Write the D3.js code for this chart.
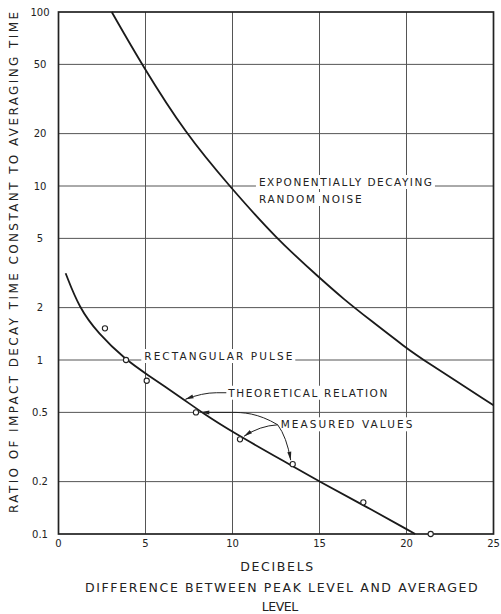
<!DOCTYPE html>
<html>
<head>
<meta charset="utf-8">
<script src="https://cdn.jsdelivr.net/npm/d3@7"></script>
<style>
    body{margin:0;background:#fff;}
    text{font-family:"DejaVu Sans",sans-serif;fill:#222;}
</style>
</head>
<body>
<div id="chart"></div>
<script>
// axis ticks
var xTicks = [0, 5, 10, 15, 20, 25];
var yTicks = [0.1, 0.2, 0.5, 1, 2, 5, 10, 20, 50, 100];
var yTickLabels = ["0.1", "0.2", "0.5", "1", "2", "5", "10", "20", "50", "100"];

// exponentially decaying random noise
var noiseX = [3.06, 4.78, 7.3, 9.82, 12.5, 15.03, 16.36, 17.9, 20, 20.97, 25];
var noiseY = [100, 50, 20, 10, 5, 2.95, 2.25, 1.70, 1.17, 1.0, 0.55];

// rectangular pulse, theoretical relation
var theoX = [0.41, 1.18, 2.28, 3.88, 4.98, 7.23, 8.23, 9.95, 13.5, 15, 17.5, 20.5];
var theoY = [3.15, 2.0, 1.42, 1.0, 0.84, 0.59, 0.5, 0.387, 0.244, 0.2, 0.147, 0.1];

// measured values
var measX = [2.67, 3.88, 5.07, 7.9, 10.43, 13.46, 17.52, 21.39];
var measY = [1.52, 1.0, 0.76, 0.5, 0.35, 0.252, 0.152, 0.1];

(function () {
    var width = 501,
        height = 614;

    var svg = d3.select("#chart")
        .append("svg")
        .attr("width", width)
        .attr("height", height);

    var x = d3.scaleLinear().domain([0, 25]).range([58.5, 493.5]);
    var y = d3.scaleLog().domain([0.1, 100]).range([534, 12]);

    var defs = svg.append("defs");
    defs.append("marker")
        .attr("id", "arrow")
        .attr("viewBox", "0 0 10 6")
        .attr("refX", 10)
        .attr("refY", 3)
        .attr("markerWidth", 9)
        .attr("markerHeight", 5)
        .attr("markerUnits", "userSpaceOnUse")
        .attr("orient", "auto")
        .append("path")
        .attr("d", "M0,0.6 L10,3 L0,5.4 Z")
        .attr("fill", "#222");

    // grid
    svg.append("g").selectAll("line")
        .data(xTicks.slice(1, -1))
        .enter().append("line")
        .attr("x1", function (d) { return x(d); })
        .attr("x2", function (d) { return x(d); })
        .attr("y1", y(100))
        .attr("y2", y(0.1))
        .attr("stroke", "#555")
        .attr("stroke-width", 1);

    svg.append("g").selectAll("line")
        .data(yTicks.slice(1, -1))
        .enter().append("line")
        .attr("x1", x(0))
        .attr("x2", x(25))
        .attr("y1", function (d) { return y(d); })
        .attr("y2", function (d) { return y(d); })
        .attr("stroke", "#555")
        .attr("stroke-width", 1);

    // frame
    svg.append("rect")
        .attr("x", x(0))
        .attr("y", y(100))
        .attr("width", x(25) - x(0))
        .attr("height", y(0.1) - y(100))
        .attr("fill", "none")
        .attr("stroke", "#222")
        .attr("stroke-width", 1.7);

    // tick labels
    svg.append("g").selectAll("text")
        .data(yTicks)
        .enter().append("text")
        .attr("x", 40)
        .attr("y", function (d) { return y(d); })
        .attr("dy", "0.36em")
        .attr("text-anchor", "middle")
        .attr("font-size", 10)
        .text(function (d, i) { return yTickLabels[i]; });

    svg.append("g").selectAll("text")
        .data(xTicks)
        .enter().append("text")
        .attr("x", function (d) { return x(d); })
        .attr("y", 547)
        .attr("text-anchor", "middle")
        .attr("font-size", 10)
        .text(function (d) { return d; });

    // labels on white patches so the grid breaks around them
    function label(txt, xv, yv, len, dy) {
        var t = svg.append("text")
            .attr("x", x(xv))
            .attr("y", y(yv) + (dy || 0))
            .attr("font-size", 10.5)
            .attr("textLength", len)
            .attr("lengthAdjust", "spacing")
            .text(txt);
        var b = t.node().getBBox();
        svg.insert("rect", function () { return t.node(); })
            .attr("x", b.x - 3)
            .attr("y", b.y - 1)
            .attr("width", b.width + 6)
            .attr("height", b.height + 2)
            .attr("fill", "#fff");
        return t;
    }

    label("EXPONENTIALLY DECAYING", 11.52, 10, 173, 0);
    label("RANDOM NOISE", 11.52, 10, 102.7, 17);
    label("RECTANGULAR PULSE", 4.93, 1, 148, 0);
    label("THEORETICAL RELATION", 9.76, 0.615, 159, 0);
    label("MEASURED VALUES", 12.77, 0.405, 131.6, 0);

    // curves
    var line = d3.line()
        .x(function (d) { return x(d[0]); })
        .y(function (d) { return y(d[1]); })
        .curve(d3.curveBasis);

    svg.append("path")
        .datum(noiseX.map(function (d, i) { return [d, noiseY[i]]; }))
        .attr("d", line)
        .attr("fill", "none")
        .attr("stroke", "#1a1a1a")
        .attr("stroke-width", 1.8);

    svg.append("path")
        .datum(theoX.map(function (d, i) { return [d, theoY[i]]; }))
        .attr("d", line)
        .attr("fill", "none")
        .attr("stroke", "#1a1a1a")
        .attr("stroke-width", 1.8);

    svg.append("g").selectAll("circle")
        .data(measX.map(function (d, i) { return [d, measY[i]]; }))
        .enter().append("circle")
        .attr("cx", function (d) { return x(d[0]); })
        .attr("cy", function (d) { return y(d[1]); })
        .attr("r", 2.6)
        .attr("fill", "#fff")
        .attr("stroke", "#222")
        .attr("stroke-width", 1.1);

    // leader arrows
    var tx = x(9.76) - 2, ty = y(0.615) - 4;
    var tip = [x(theoX[5]) + 1, y(theoY[5]) - 0.5];
    svg.append("path")
        .attr("d", "M" + tx + "," + ty + " L" + (tx - 10) + "," + ty +
            " Q" + (tx - 24) + "," + ty + " " + tip[0] + "," + tip[1])
        .attr("fill", "none")
        .attr("stroke", "#222")
        .attr("stroke-width", 1)
        .attr("marker-end", "url(#arrow)");

    var mx = x(12.77) - 3, my = y(0.405) - 3.5;
    var p4 = [x(measX[3]) + 5, y(measY[3])];
    svg.append("path")
        .attr("d", "M" + mx + "," + my + " C" + (mx - 20) + "," + (my - 12) + " " + (mx - 35) + "," + p4[1] +
            " " + (mx - 46) + "," + p4[1] + " L" + p4[0] + "," + p4[1])
        .attr("fill", "none")
        .attr("stroke", "#222")
        .attr("stroke-width", 1)
        .attr("marker-end", "url(#arrow)");

    var p5 = [x(measX[4]) + 4, y(measY[4]) - 3];
    svg.append("path")
        .attr("d", "M" + mx + "," + my + " Q" + (mx - 18) + "," + (my + 1) + " " + p5[0] + "," + p5[1])
        .attr("fill", "none")
        .attr("stroke", "#222")
        .attr("stroke-width", 1)
        .attr("marker-end", "url(#arrow)");

    var p6 = [x(measX[5]) - 2, y(measY[5]) - 4];
    svg.append("path")
        .attr("d", "M" + mx + "," + my + " Q" + (mx + 9) + "," + (my + 12) + " " + p6[0] + "," + p6[1])
        .attr("fill", "none")
        .attr("stroke", "#222")
        .attr("stroke-width", 1)
        .attr("marker-end", "url(#arrow)");

    // axis titles
    svg.append("text")
        .attr("x", 276.7)
        .attr("y", 570.7)
        .attr("text-anchor", "middle")
        .attr("font-size", 12.5)
        .attr("textLength", 73)
        .attr("lengthAdjust", "spacing")
        .text("DECIBELS");

    svg.append("text")
        .attr("x", 281.3)
        .attr("y", 592.3)
        .attr("text-anchor", "middle")
        .attr("font-size", 12.5)
        .attr("textLength", 392.7)
        .attr("lengthAdjust", "spacing")
        .text("DIFFERENCE BETWEEN PEAK LEVEL AND AVERAGED");

    svg.append("text")
        .attr("x", 280)
        .attr("y", 611)
        .attr("text-anchor", "middle")
        .attr("font-size", 12.5)
        .attr("textLength", 36.6)
        .attr("lengthAdjust", "spacing")
        .text("LEVEL");

    svg.append("text")
        .attr("transform", "translate(17.5,262.5) rotate(-90)")
        .attr("text-anchor", "middle")
        .attr("font-size", 12)
        .attr("textLength", 501)
        .attr("lengthAdjust", "spacing")
        .text("RATIO OF IMPACT DECAY TIME CONSTANT TO AVERAGING TIME");
})();
</script>
</body>
</html>
